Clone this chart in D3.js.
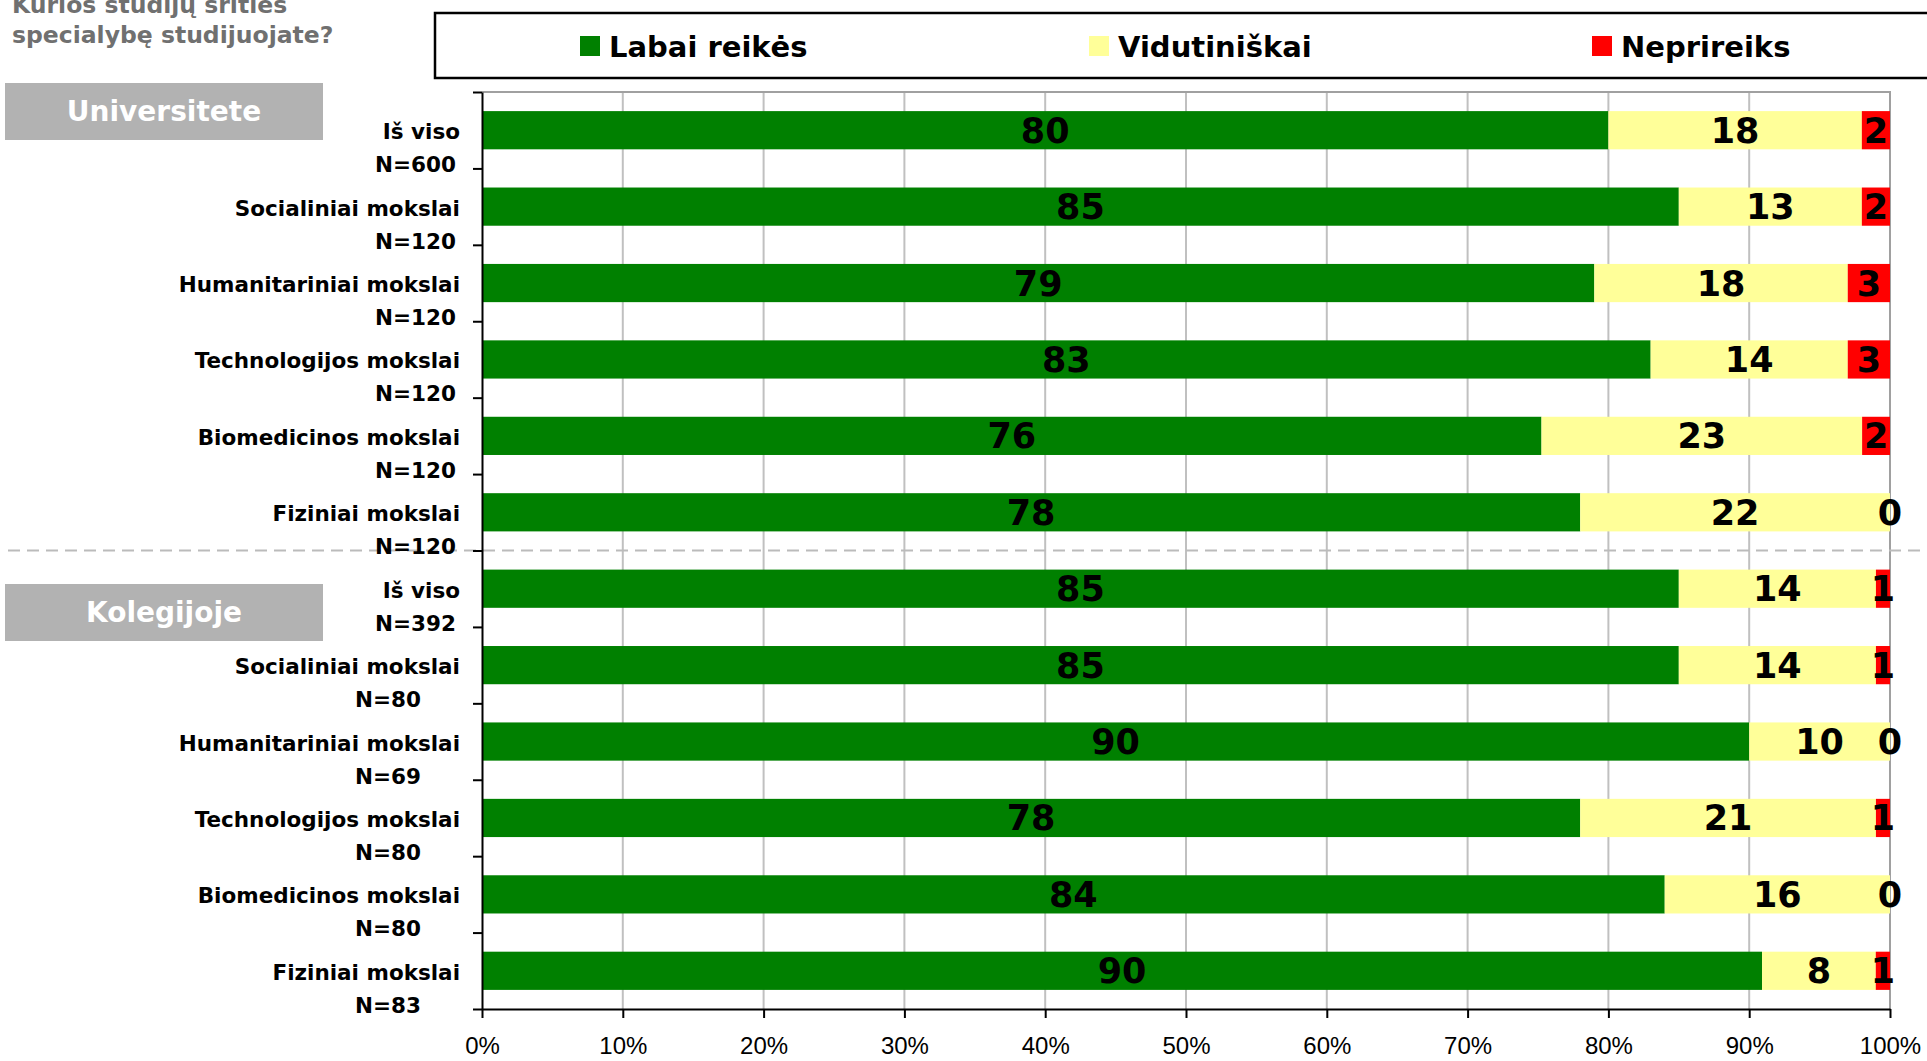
<!DOCTYPE html>
<html>
<head>
<meta charset="utf-8">
<script src="https://cdn.jsdelivr.net/npm/d3@7"></script>
<style>
  body { margin: 0; background: #fff; }
  svg { display: block; font-family: "DejaVu Sans", Verdana, sans-serif; }
  .axis path, .axis line { stroke: #000; stroke-width: 2px; }
  .axis text { font-size: 24px; fill: #000; }
</style>
</head>
<body>
<script>
// chart data
let categories = ["Iš viso", "Socialiniai mokslai", "Humanitariniai mokslai", "Technologijos mokslai", "Biomedicinos mokslai", "Fiziniai mokslai",
                  "Iš viso", "Socialiniai mokslai", "Humanitariniai mokslai", "Technologijos mokslai", "Biomedicinos mokslai", "Fiziniai mokslai"];
let sampleSizes = [600, 120, 120, 120, 120, 120, 392, 80, 69, 80, 80, 83];
let labai = [80, 85, 79, 83, 76, 78, 85, 85, 90, 78, 84, 90];
let vidutiniskai = [18, 13, 18, 14, 23, 22, 14, 14, 10, 21, 16, 8];
let neprireiks = [2, 2, 3, 3, 2, 0, 1, 1, 0, 1, 0, 1];
let seriesNames = ["Labai reikės", "Vidutiniškai", "Neprireiks"];
let groupNames = ["Universitete", "Kolegijoje"];
let xTicks = [0, 0.1, 0.2, 0.3, 0.4, 0.5, 0.6, 0.7, 0.8, 0.9, 1];
let titleLines = ["Kurios studijų srities", "specialybę studijuojate?"];

let colors = ["#008000", "#FFFF99", "#FF0000"];
let keys = ["labai", "vid", "nep"];

let W = 1927, H = 1061;
let plot = {left: 482, right: 1890, top: 92, bottom: 1009};
let svg, x, y;

let rows = categories.map((c, i) => ({
  idx: i, name: c, n: sampleSizes[i],
  labai: labai[i], vid: vidutiniskai[i], nep: neprireiks[i]
}));

appendSvg();
setupScales();
appendTitle();
appendLegend();
appendGrid();
appendBars();
appendAxes();
appendCategoryLabels();
appendGroupBoxes();

function appendSvg() {
  svg = d3.select("body").append("svg")
    .attr("width", W)
    .attr("height", H);
}

function setupScales() {
  x = d3.scaleLinear().domain([0, 1]).range([plot.left, plot.right]);
  y = d3.scaleBand()
    .domain(rows.map(d => d.idx))
    .range([plot.top, plot.bottom])
    .paddingInner(0.5)
    .paddingOuter(0.25);
}

function appendTitle() {
  // first line is partly cut by the top edge, as in the original
  svg.append("g").selectAll("text")
    .data(titleLines)
    .enter().append("text")
    .attr("x", 12)
    .attr("y", (d, i) => 13 + i * 30)
    .style("font-size", "23.5px")
    .style("font-weight", "bold")
    .style("fill", "#707070")
    .text(d => d);
}

function appendLegend() {
  let g = svg.append("g");
  g.append("rect")
    .attr("x", 435).attr("y", 13)
    .attr("width", 1510).attr("height", 65)
    .attr("fill", "#fff")
    .attr("stroke", "#000")
    .attr("stroke-width", 2.5);

  let pos = [580, 1089, 1592];
  let item = g.selectAll(".item")
    .data(seriesNames)
    .enter().append("g")
    .attr("transform", (d, i) => `translate(${pos[i]}, 0)`);
  item.append("rect")
    .attr("x", 0).attr("y", 36)
    .attr("width", 20).attr("height", 20)
    .attr("fill", (d, i) => colors[i]);
  item.append("text")
    .attr("x", 29).attr("y", 57)
    .style("font-size", "29px")
    .style("font-weight", "bold")
    .text(d => d);
}

function appendGrid() {
  svg.append("g").selectAll("line")
    .data(xTicks.filter(t => t > 0 && t < 1))
    .enter().append("line")
    .attr("x1", d => x(d)).attr("x2", d => x(d))
    .attr("y1", plot.top).attr("y2", plot.bottom)
    .attr("stroke", "#c0c0c0")
    .attr("stroke-width", 2);

  // plot frame (top and right)
  svg.append("path")
    .attr("d", `M${plot.left},${plot.top}H${plot.right}V${plot.bottom}`)
    .attr("fill", "none")
    .attr("stroke", "#a0a0a0")
    .attr("stroke-width", 2);

  // dashed separator between groups
  let sep = (y(5) + y.bandwidth() + y(6)) / 2;
  svg.append("line")
    .attr("x1", 8).attr("x2", W)
    .attr("y1", sep).attr("y2", sep)
    .attr("stroke", "#bbbbbb")
    .attr("stroke-width", 2)
    .attr("stroke-dasharray", "12,7");
}

function appendBars() {
  let stacked = d3.stack().keys(keys).offset(d3.stackOffsetExpand)(rows);

  let layer = svg.append("g").selectAll("g")
    .data(stacked)
    .enter().append("g")
    .attr("fill", (d, i) => colors[i]);

  layer.selectAll("rect")
    .data(d => d)
    .enter().append("rect")
    .attr("x", d => x(d[0]))
    .attr("y", d => y(d.data.idx))
    .attr("width", d => x(d[1]) - x(d[0]))
    .attr("height", y.bandwidth());

  let labels = svg.append("g");
  stacked.forEach(s => {
    labels.selectAll(null)
      .data(s)
      .enter().append("text")
      .attr("x", d => x((d[0] + d[1]) / 2))
      .attr("y", d => y(d.data.idx) + y.bandwidth() / 2 + 12.5)
      .attr("text-anchor", "middle")
      .style("font-size", "35px")
      .style("font-weight", "bold")
      .text(d => d.data[s.key]);
  });
}

function appendAxes() {
  svg.append("g")
    .attr("class", "axis")
    .attr("transform", `translate(0, ${plot.bottom})`)
    .call(d3.axisBottom(x)
      .tickValues(xTicks)
      .tickFormat(d3.format(".0%"))
      .tickSize(9)
      .tickSizeOuter(0)
      .tickPadding(19));

  let yIdx = d3.scaleLinear().domain([0, rows.length]).range([plot.top, plot.bottom]);
  svg.append("g")
    .attr("class", "axis")
    .attr("transform", `translate(${plot.left}, 0)`)
    .call(d3.axisLeft(yIdx)
      .tickValues(d3.range(rows.length + 1))
      .tickFormat("")
      .tickSize(9)
      .tickSizeOuter(0));
}

function appendCategoryLabels() {
  let g = svg.append("g")
    .style("font-size", "21.5px")
    .style("font-weight", "bold");
  let cy = d => y(d.idx) + y.bandwidth() / 2;

  g.selectAll(".l1")
    .data(rows)
    .enter().append("text")
    .attr("x", 460)
    .attr("y", d => cy(d) + 9)
    .attr("text-anchor", "end")
    .text(d => d.name);

  g.selectAll(".l2")
    .data(rows)
    .enter().append("text")
    .attr("x", d => d.n < 100 ? 421 : 456)
    .attr("y", d => cy(d) + 42)
    .attr("text-anchor", "end")
    .text(d => "N=" + d.n);
}

function appendGroupBoxes() {
  let boxY = [83, 584];
  let g = svg.append("g").selectAll("g")
    .data(groupNames)
    .enter().append("g")
    .attr("transform", (d, i) => `translate(5, ${boxY[i]})`);
  g.append("rect")
    .attr("width", 318).attr("height", 57)
    .attr("fill", "#b2b2b2");
  g.append("text")
    .attr("x", 159).attr("y", 38)
    .attr("text-anchor", "middle")
    .style("font-size", "28px")
    .style("font-weight", "bold")
    .style("fill", "#fff")
    .text(d => d);
}
</script>
</body>
</html>
